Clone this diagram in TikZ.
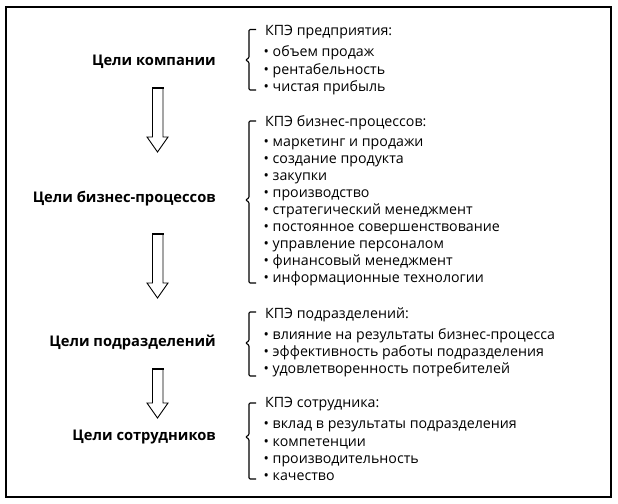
\documentclass[tikz,border=0pt]{standalone}
\usepackage{fontspec}
\setmainfont{Open Sans}
\begin{document}
\begin{tikzpicture}[x=1pt,y=-1pt,
  goal/.style={font=\bfseries\fontsize{14.7}{18}\selectfont, anchor=east, inner sep=0pt, text height=10.5pt, text depth=3pt},
  kpi/.style={font=\fontsize{14.2}{17}\selectfont, anchor=west, inner sep=0pt, text height=10pt, text depth=3pt},
  brk/.style={line width=1.1pt, rounded corners=1.2pt},
  barrow/.style={line width=0.9pt, draw=black, fill=white, line join=miter},
  atop/.style={line width=1.8pt}]
\useasboundingbox (0,0) rectangle (618,503);
\draw[line width=1.6pt] (6,7) rectangle (611,497);

% goals
\node[goal] (g1) at (216,62) {Цели компании};
\node[goal] (g2) at (216,199) {Цели бизнес-процессов};
\node[goal] (g3) at (216,343) {Цели подразделений};
\node[goal] (g4) at (216,437) {Цели сотрудников};

% group 1
\node[kpi] (h1) at (265,32) {КПЭ предприятия:};
\node[kpi] (a1) at (263.5,53) {• объем продаж};
\node[kpi] (a2) at (263.5,71) {• рентабельность};
\node[kpi] (a3) at (263.5,88) {• чистая прибыль};

% group 2
\node[kpi] (h2) at (265,123) {КПЭ бизнес-процессов:};
\node[kpi] (b1) at (263.5,143) {• маркетинг и продажи};
\node[kpi] (b2) at (263.5,159.5) {• создание продукта};
\node[kpi] (b3) at (263.5,176.5) {• закупки};
\node[kpi] (b4) at (263.5,193.5) {• производство};
\node[kpi] (b5) at (263.5,210.5) {• стратегический менеджмент};
\node[kpi] (b6) at (263.5,227.5) {• постоянное совершенствование};
\node[kpi] (b7) at (263.5,245) {• управление персоналом};
\node[kpi] (b8) at (263.5,262) {• финансовый менеджмент};
\node[kpi] (b9) at (263.5,279) {• информационные технологии};

% group 3
\node[kpi] (h3) at (265,315) {КПЭ подразделений:};
\node[kpi] (c1) at (263.5,336) {• влияние на результаты бизнес-процесса};
\node[kpi] (c2) at (263.5,353) {• эффективность работы подразделения};
\node[kpi] (c3) at (263.5,370) {• удовлетворенность потребителей};

% group 4
\node[kpi] (h4) at (265,404) {КПЭ сотрудника:};
\node[kpi] (d1) at (263.5,425) {• вклад в результаты подразделения};
\node[kpi] (d2) at (263.5,443) {• компетенции};
\node[kpi] (d3) at (263.5,460) {• производительность};
\node[kpi] (d4) at (263.5,477) {• качество};

% brackets
\draw[brk] (256,29.5) -- (249,29.5) -- (249,58) -- (245.5,60) -- (249,62) -- (249,90) -- (256,90);
\draw[brk] (256,121) -- (249,121) -- (249,198) -- (245.5,200) -- (249,202) -- (249,283) -- (256,283);
\draw[brk] (256,312) -- (249,312) -- (249,341) -- (245.5,343) -- (249,345) -- (249,376) -- (256,376);
\draw[brk] (256,403) -- (249,403) -- (249,435) -- (245.5,437) -- (249,439) -- (249,479) -- (256,479);

% block arrows
\draw[barrow] (152.5,88) -- (152.5,137) -- (147,137) -- (157.5,152) -- (168,137) -- (163,137) -- (163,88) -- cycle;
\draw[atop] (152,88) -- (163.5,88);
\draw[barrow] (152.5,234) -- (152.5,283) -- (147,283) -- (157.5,298) -- (168,283) -- (163,283) -- (163,234) -- cycle;
\draw[atop] (152,234) -- (163.5,234);
\draw[barrow] (152.5,369) -- (152.5,403) -- (147,403) -- (157.5,418) -- (168,403) -- (163,403) -- (163,369) -- cycle;
\draw[atop] (152,369) -- (163.5,369);
\end{tikzpicture}
\end{document}
